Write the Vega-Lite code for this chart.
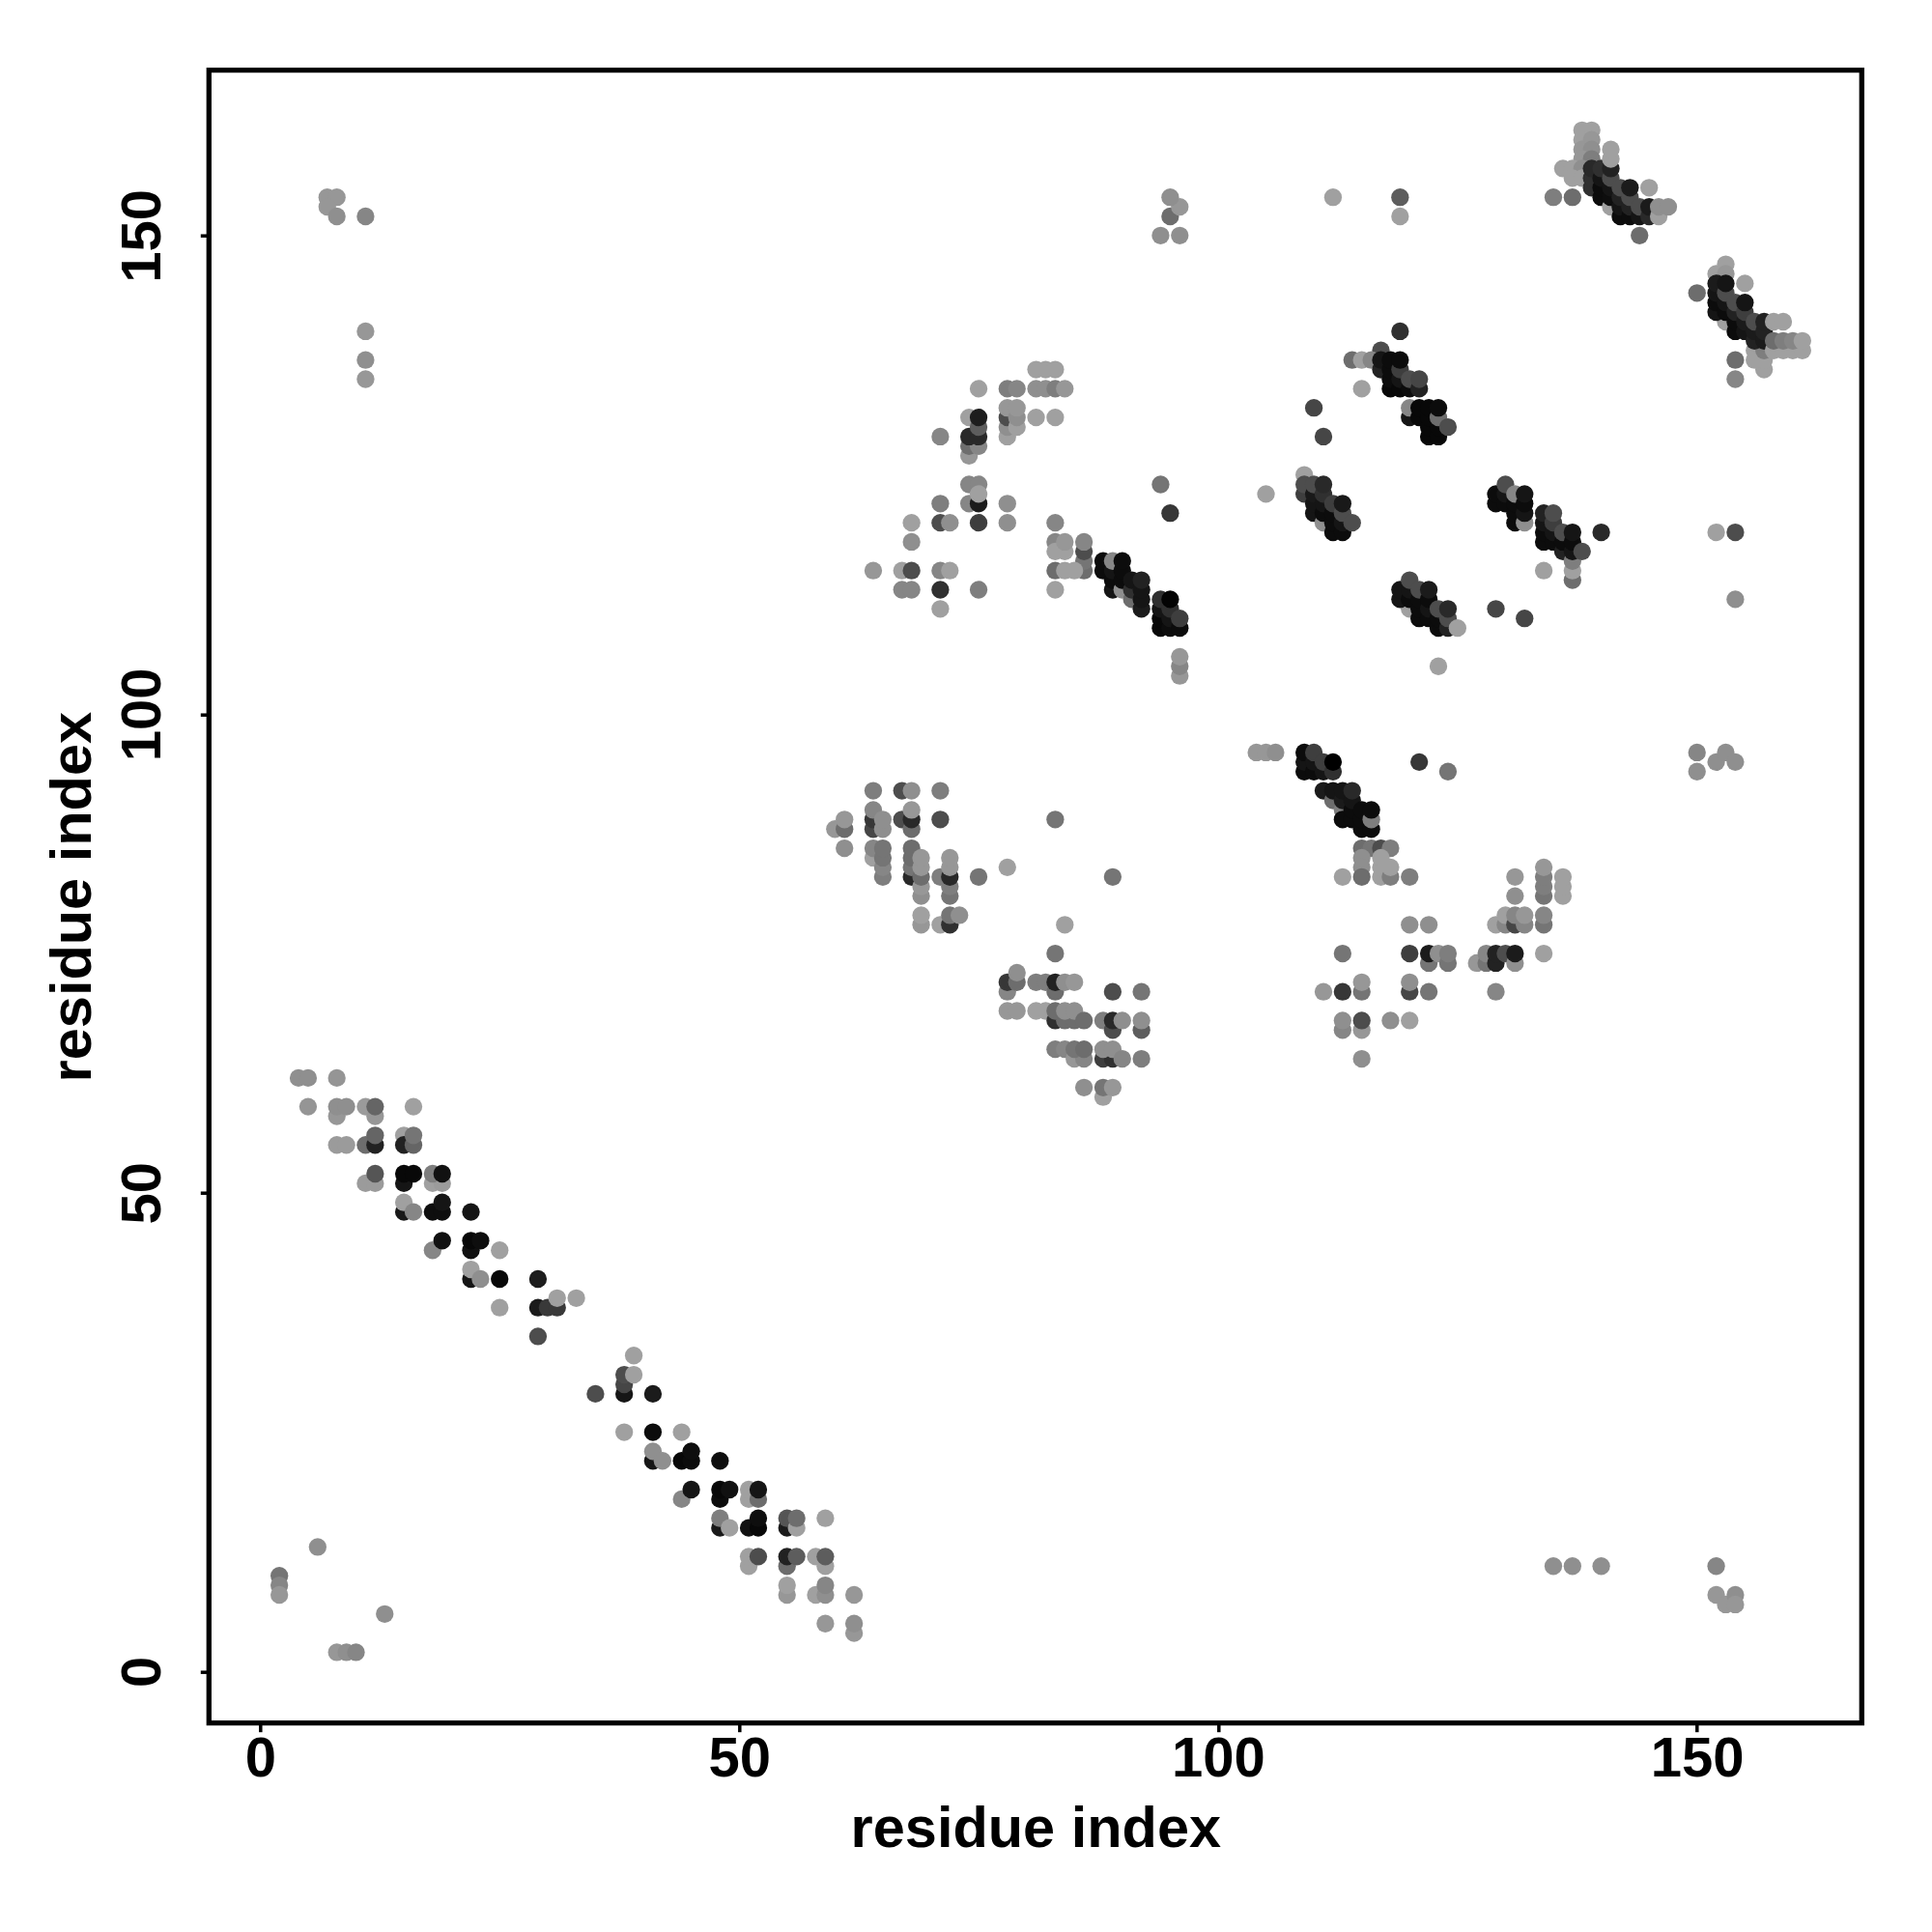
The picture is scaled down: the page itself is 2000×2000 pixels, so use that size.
{"$schema":"https://vega.github.io/schema/vega-lite/v6.json","width":1711,"height":1711,"autosize":{"type":"none"},"padding":{"left":216.3,"top":72.7,"right":72,"bottom":216},"background":"white","view":{"stroke":"black","strokeWidth":5.3,"fill":"white"},
"data":{"values":[
{"x":4,"y":62,"v":144},{"x":5,"y":62,"v":144},{"x":8,"y":62,"v":150},{"x":5,"y":59,"v":150},{"x":8,"y":58,"v":152},{"x":8,"y":59,"v":144},{"x":9,"y":59,"v":144},{"x":11,"y":59,"v":155},{"x":12,"y":58,"v":152},{"x":12,"y":59,"v":104},{"x":16,"y":59,"v":160},
{"x":8,"y":55,"v":155},{"x":9,"y":55,"v":155},{"x":11,"y":55,"v":112},{"x":12,"y":55,"v":32},{"x":12,"y":56,"v":104},{"x":15,"y":56,"v":160},{"x":15,"y":55,"v":32},{"x":16,"y":55,"v":104},{"x":16,"y":56,"v":120},
{"x":11,"y":51,"v":155},{"x":12,"y":51,"v":155},{"x":12,"y":52,"v":88},{"x":15,"y":51,"v":16},{"x":15,"y":52,"v":5},{"x":16,"y":52,"v":5},{"x":18,"y":51,"v":160},{"x":19,"y":51,"v":155},{"x":18,"y":52,"v":128},{"x":19,"y":52,"v":12},
{"x":15,"y":48,"v":21},{"x":15,"y":49,"v":160},{"x":16,"y":48,"v":136},{"x":18,"y":48,"v":10},{"x":19,"y":48,"v":10},{"x":19,"y":49,"v":16},{"x":22,"y":48,"v":16},
{"x":18,"y":44,"v":136},{"x":19,"y":45,"v":12},{"x":22,"y":44,"v":12},{"x":22,"y":45,"v":5},{"x":23,"y":45,"v":10},{"x":25,"y":44,"v":160},
{"x":22,"y":41,"v":16},{"x":22,"y":42,"v":160},{"x":23,"y":41,"v":144},{"x":25,"y":41,"v":5},{"x":29,"y":41,"v":26},
{"x":25,"y":38,"v":160},{"x":29,"y":38,"v":24},{"x":30,"y":38,"v":58},{"x":31,"y":38,"v":58},{"x":31,"y":39,"v":160},{"x":33,"y":39,"v":160},{"x":29,"y":35,"v":80},
{"x":39,"y":33,"v":160},{"x":38,"y":29,"v":18},{"x":38,"y":30,"v":72},{"x":38,"y":31,"v":80},{"x":39,"y":31,"v":160},{"x":35,"y":29,"v":80},{"x":41,"y":29,"v":24},
{"x":38,"y":25,"v":160},{"x":41,"y":25,"v":8},{"x":44,"y":25,"v":160},
{"x":41,"y":22,"v":16},{"x":41,"y":23,"v":144},{"x":42,"y":22,"v":144},{"x":44,"y":22,"v":5},{"x":45,"y":22,"v":8},{"x":45,"y":23,"v":10},{"x":48,"y":22,"v":10},
{"x":44,"y":18,"v":136},{"x":45,"y":19,"v":16},{"x":48,"y":18,"v":8},{"x":48,"y":19,"v":5},{"x":49,"y":19,"v":12},{"x":51,"y":18,"v":160},{"x":51,"y":19,"v":160},{"x":52,"y":18,"v":112},{"x":52,"y":19,"v":16},
{"x":48,"y":15,"v":21},{"x":48,"y":16,"v":128},{"x":49,"y":15,"v":160},{"x":51,"y":15,"v":12},{"x":52,"y":15,"v":5},{"x":52,"y":16,"v":10},{"x":55,"y":15,"v":24},{"x":55,"y":16,"v":88},{"x":56,"y":15,"v":160},{"x":56,"y":16,"v":112},{"x":59,"y":16,"v":160},
{"x":51,"y":11,"v":160},{"x":51,"y":12,"v":160},{"x":52,"y":12,"v":80},{"x":55,"y":11,"v":112},{"x":55,"y":12,"v":32},{"x":56,"y":12,"v":96},{"x":58,"y":12,"v":160},{"x":59,"y":11,"v":160},{"x":59,"y":12,"v":96},
{"x":55,"y":8,"v":152},{"x":55,"y":9,"v":160},{"x":58,"y":8,"v":160},{"x":59,"y":8,"v":144},{"x":59,"y":9,"v":136},{"x":62,"y":8,"v":152},{"x":59,"y":5,"v":152},{"x":62,"y":4,"v":152},{"x":62,"y":5,"v":144},
{"x":2,"y":10,"v":120},{"x":2,"y":9,"v":136},{"x":2,"y":8,"v":152},{"x":6,"y":13,"v":144},{"x":8,"y":2,"v":152},{"x":9,"y":2,"v":144},{"x":10,"y":2,"v":136},{"x":13,"y":6,"v":144},
{"x":7,"y":154,"v":152},{"x":8,"y":154,"v":152},{"x":7,"y":153,"v":152},{"x":8,"y":152,"v":144},{"x":11,"y":152,"v":136},{"x":11,"y":140,"v":152},{"x":11,"y":137,"v":144},{"x":11,"y":135,"v":152},
{"x":135,"y":11,"v":144},{"x":137,"y":11,"v":144},{"x":140,"y":11,"v":144},{"x":152,"y":11,"v":136},{"x":152,"y":8,"v":152},{"x":153,"y":7,"v":152},{"x":154,"y":8,"v":144},{"x":154,"y":7,"v":152},
{"x":94,"y":150,"v":144},{"x":95,"y":152,"v":112},{"x":96,"y":150,"v":144},{"x":96,"y":153,"v":152},{"x":95,"y":154,"v":144},{"x":112,"y":154,"v":160},{"x":119,"y":154,"v":96},{"x":119,"y":152,"v":160},
{"x":138,"y":161,"v":160},{"x":139,"y":161,"v":160},{"x":138,"y":160,"v":160},{"x":139,"y":160,"v":152},{"x":138,"y":159,"v":152},{"x":139,"y":159,"v":144},{"x":138,"y":158,"v":152},{"x":139,"y":158,"v":128},{"x":136,"y":157,"v":160},{"x":137,"y":157,"v":160},{"x":138,"y":157,"v":144},{"x":137,"y":156,"v":160},{"x":138,"y":156,"v":160},{"x":135,"y":154,"v":128},{"x":137,"y":154,"v":112},
{"x":139,"y":155,"v":48},{"x":139,"y":156,"v":48},{"x":139,"y":157,"v":40},{"x":140,"y":154,"v":8},{"x":140,"y":155,"v":8},{"x":140,"y":156,"v":16},{"x":140,"y":157,"v":48},{"x":141,"y":153,"v":160},{"x":141,"y":154,"v":10},{"x":141,"y":155,"v":16},{"x":141,"y":156,"v":80},{"x":141,"y":157,"v":32},{"x":141,"y":158,"v":160},{"x":141,"y":159,"v":160},
{"x":142,"y":152,"v":8},{"x":142,"y":153,"v":16},{"x":142,"y":154,"v":32},{"x":142,"y":155,"v":80},{"x":143,"y":152,"v":8},{"x":143,"y":153,"v":32},{"x":143,"y":154,"v":80},{"x":143,"y":155,"v":24},{"x":144,"y":152,"v":16},{"x":144,"y":153,"v":80},{"x":145,"y":155,"v":160},{"x":145,"y":152,"v":40},{"x":145,"y":153,"v":24},{"x":146,"y":152,"v":160},{"x":146,"y":153,"v":144},{"x":147,"y":153,"v":144},{"x":144,"y":150,"v":112},
{"x":152,"y":146,"v":160},{"x":153,"y":147,"v":160},{"x":153,"y":146,"v":152},{"x":155,"y":145,"v":160},{"x":150,"y":144,"v":112},{"x":153,"y":141,"v":160},{"x":152,"y":142,"v":16},{"x":152,"y":143,"v":8},{"x":152,"y":144,"v":16},{"x":152,"y":145,"v":24},{"x":153,"y":142,"v":8},{"x":153,"y":143,"v":16},{"x":153,"y":144,"v":80},{"x":153,"y":145,"v":16},{"x":154,"y":140,"v":8},{"x":154,"y":141,"v":8},{"x":154,"y":142,"v":32},{"x":154,"y":143,"v":80},{"x":155,"y":140,"v":16},{"x":155,"y":141,"v":24},{"x":155,"y":142,"v":64},{"x":155,"y":143,"v":16},
{"x":156,"y":137,"v":160},{"x":156,"y":138,"v":160},{"x":157,"y":136,"v":160},{"x":157,"y":137,"v":160},{"x":157,"y":138,"v":128},{"x":156,"y":139,"v":32},{"x":156,"y":140,"v":24},{"x":156,"y":141,"v":80},{"x":157,"y":139,"v":24},{"x":157,"y":140,"v":32},{"x":157,"y":141,"v":32},{"x":158,"y":138,"v":160},{"x":159,"y":138,"v":160},{"x":160,"y":138,"v":160},{"x":161,"y":138,"v":160},{"x":158,"y":139,"v":112},{"x":159,"y":139,"v":128},{"x":160,"y":139,"v":136},{"x":161,"y":139,"v":160},{"x":158,"y":141,"v":160},{"x":159,"y":141,"v":160},{"x":154,"y":137,"v":112},{"x":154,"y":135,"v":136},
{"x":119,"y":140,"v":48},{"x":117,"y":138,"v":80},{"x":114,"y":137,"v":112},{"x":115,"y":137,"v":160},{"x":116,"y":137,"v":136},{"x":117,"y":136,"v":32},{"x":117,"y":137,"v":16},{"x":118,"y":134,"v":5},{"x":118,"y":135,"v":8},{"x":118,"y":136,"v":8},{"x":118,"y":137,"v":8},{"x":119,"y":134,"v":5},{"x":119,"y":135,"v":16},{"x":119,"y":136,"v":64},{"x":119,"y":137,"v":8},{"x":120,"y":134,"v":8},{"x":120,"y":135,"v":80},{"x":121,"y":134,"v":32},{"x":121,"y":135,"v":72},{"x":115,"y":134,"v":160},
{"x":110,"y":132,"v":72},{"x":111,"y":129,"v":72},{"x":120,"y":131,"v":16},{"x":120,"y":132,"v":136},{"x":121,"y":131,"v":5},{"x":121,"y":132,"v":5},{"x":122,"y":129,"v":5},{"x":122,"y":130,"v":5},{"x":122,"y":131,"v":5},{"x":122,"y":132,"v":5},{"x":123,"y":129,"v":5},{"x":123,"y":130,"v":5},{"x":123,"y":131,"v":112},{"x":123,"y":132,"v":8},{"x":124,"y":130,"v":80},
{"x":109,"y":125,"v":160},{"x":105,"y":123,"v":160},{"x":109,"y":123,"v":64},{"x":109,"y":124,"v":80},{"x":110,"y":121,"v":16},{"x":110,"y":122,"v":16},{"x":110,"y":123,"v":21},{"x":110,"y":124,"v":80},{"x":111,"y":120,"v":144},{"x":111,"y":121,"v":8},{"x":111,"y":122,"v":16},{"x":111,"y":123,"v":48},{"x":111,"y":124,"v":40},{"x":112,"y":119,"v":8},{"x":112,"y":120,"v":8},{"x":112,"y":121,"v":8},{"x":112,"y":122,"v":64},{"x":113,"y":119,"v":8},{"x":113,"y":120,"v":16},{"x":113,"y":121,"v":80},{"x":113,"y":122,"v":21},{"x":114,"y":120,"v":80},
{"x":129,"y":122,"v":8},{"x":129,"y":123,"v":8},{"x":130,"y":122,"v":8},{"x":130,"y":123,"v":16},{"x":130,"y":124,"v":80},{"x":131,"y":120,"v":8},{"x":131,"y":121,"v":8},{"x":131,"y":122,"v":8},{"x":131,"y":123,"v":136},{"x":132,"y":120,"v":144},{"x":132,"y":121,"v":16},{"x":132,"y":122,"v":8},{"x":132,"y":123,"v":16},
{"x":134,"y":118,"v":8},{"x":134,"y":119,"v":8},{"x":134,"y":120,"v":16},{"x":134,"y":121,"v":32},{"x":135,"y":118,"v":8},{"x":135,"y":119,"v":16},{"x":135,"y":120,"v":64},{"x":135,"y":121,"v":80},{"x":136,"y":117,"v":32},{"x":136,"y":118,"v":8},{"x":136,"y":119,"v":80},{"x":137,"y":114,"v":112},{"x":137,"y":115,"v":160},{"x":137,"y":116,"v":128},{"x":137,"y":117,"v":16},{"x":137,"y":118,"v":8},{"x":137,"y":119,"v":16},{"x":138,"y":117,"v":80},{"x":140,"y":119,"v":40},{"x":134,"y":115,"v":160},
{"x":129,"y":111,"v":72},{"x":132,"y":110,"v":72},{"x":120,"y":111,"v":160},{"x":119,"y":112,"v":16},{"x":119,"y":113,"v":16},{"x":120,"y":112,"v":8},{"x":120,"y":113,"v":16},{"x":120,"y":114,"v":80},{"x":121,"y":110,"v":8},{"x":121,"y":111,"v":8},{"x":121,"y":112,"v":8},{"x":121,"y":113,"v":80},{"x":122,"y":110,"v":8},{"x":122,"y":111,"v":16},{"x":122,"y":112,"v":8},{"x":122,"y":113,"v":24},{"x":123,"y":109,"v":8},{"x":123,"y":110,"v":8},{"x":123,"y":111,"v":80},{"x":124,"y":109,"v":32},{"x":124,"y":110,"v":80},{"x":124,"y":111,"v":40},{"x":125,"y":109,"v":160},{"x":123,"y":105,"v":160},
{"x":81,"y":136,"v":160},{"x":82,"y":136,"v":160},{"x":83,"y":136,"v":160},{"x":75,"y":134,"v":160},{"x":78,"y":134,"v":128},{"x":79,"y":134,"v":136},{"x":81,"y":134,"v":144},{"x":82,"y":134,"v":144},{"x":83,"y":134,"v":128},{"x":84,"y":134,"v":152},
{"x":78,"y":129,"v":160},{"x":78,"y":130,"v":144},{"x":78,"y":131,"v":80},{"x":78,"y":132,"v":152},{"x":79,"y":130,"v":160},{"x":79,"y":131,"v":144},{"x":79,"y":132,"v":152},{"x":81,"y":131,"v":160},{"x":83,"y":131,"v":160},{"x":71,"y":129,"v":136},{"x":74,"y":131,"v":160},{"x":74,"y":127,"v":152},{"x":74,"y":128,"v":112},{"x":75,"y":128,"v":136},{"x":74,"y":129,"v":40},{"x":75,"y":129,"v":40},{"x":75,"y":130,"v":96},{"x":75,"y":131,"v":26},
{"x":74,"y":124,"v":136},{"x":75,"y":124,"v":136},{"x":71,"y":122,"v":128},{"x":74,"y":122,"v":136},{"x":75,"y":122,"v":24},{"x":75,"y":123,"v":160},{"x":78,"y":122,"v":144},{"x":68,"y":120,"v":160},{"x":71,"y":120,"v":80},{"x":72,"y":120,"v":144},{"x":75,"y":120,"v":64},{"x":78,"y":120,"v":144},{"x":83,"y":120,"v":136},{"x":68,"y":118,"v":144},
{"x":83,"y":118,"v":136},{"x":83,"y":117,"v":160},{"x":84,"y":117,"v":160},{"x":84,"y":118,"v":152},{"x":86,"y":115,"v":112},{"x":86,"y":116,"v":120},{"x":86,"y":117,"v":80},{"x":86,"y":118,"v":136},{"x":64,"y":115,"v":152},{"x":67,"y":115,"v":160},{"x":68,"y":115,"v":80},{"x":71,"y":115,"v":136},{"x":72,"y":115,"v":160},{"x":83,"y":115,"v":112},{"x":84,"y":115,"v":160},{"x":85,"y":115,"v":160},{"x":67,"y":113,"v":136},{"x":68,"y":113,"v":136},{"x":71,"y":113,"v":48},{"x":75,"y":113,"v":128},{"x":83,"y":113,"v":160},{"x":71,"y":111,"v":160},{"x":94,"y":124,"v":120},{"x":95,"y":121,"v":56},
{"x":88,"y":115,"v":8},{"x":88,"y":116,"v":8},{"x":89,"y":113,"v":16},{"x":89,"y":114,"v":8},{"x":89,"y":115,"v":16},{"x":89,"y":116,"v":136},{"x":90,"y":113,"v":144},{"x":90,"y":114,"v":8},{"x":90,"y":115,"v":8},{"x":90,"y":116,"v":8},{"x":91,"y":112,"v":112},{"x":91,"y":113,"v":48},{"x":91,"y":114,"v":16},{"x":92,"y":111,"v":24},{"x":92,"y":112,"v":16},{"x":92,"y":113,"v":16},{"x":92,"y":114,"v":32},
{"x":94,"y":109,"v":5},{"x":94,"y":110,"v":5},{"x":94,"y":111,"v":16},{"x":94,"y":112,"v":48},{"x":95,"y":109,"v":8},{"x":95,"y":110,"v":16},{"x":95,"y":111,"v":48},{"x":95,"y":112,"v":2},{"x":96,"y":109,"v":8},{"x":96,"y":110,"v":64},{"x":96,"y":104,"v":152},{"x":96,"y":105,"v":136},{"x":96,"y":106,"v":152},
{"x":64,"y":92,"v":128},{"x":67,"y":92,"v":80},{"x":68,"y":92,"v":144},{"x":71,"y":92,"v":128},{"x":64,"y":88,"v":72},{"x":64,"y":89,"v":56},{"x":64,"y":90,"v":136},{"x":65,"y":88,"v":144},{"x":65,"y":89,"v":144},{"x":67,"y":89,"v":80},{"x":68,"y":88,"v":112},{"x":68,"y":89,"v":40},{"x":68,"y":90,"v":152},{"x":71,"y":89,"v":80},{"x":83,"y":89,"v":120},{"x":60,"y":88,"v":152},{"x":61,"y":88,"v":112},{"x":61,"y":89,"v":152},{"x":61,"y":86,"v":144},
{"x":64,"y":85,"v":160},{"x":64,"y":86,"v":136},{"x":65,"y":83,"v":128},{"x":65,"y":84,"v":136},{"x":65,"y":85,"v":120},{"x":65,"y":86,"v":120},{"x":68,"y":83,"v":40},{"x":68,"y":84,"v":120},{"x":68,"y":85,"v":112},{"x":68,"y":86,"v":112},{"x":69,"y":81,"v":144},{"x":69,"y":82,"v":152},{"x":69,"y":83,"v":112},{"x":69,"y":84,"v":152},{"x":69,"y":85,"v":152},{"x":71,"y":83,"v":128},{"x":72,"y":81,"v":120},{"x":72,"y":82,"v":128},{"x":72,"y":83,"v":40},{"x":72,"y":84,"v":152},{"x":72,"y":85,"v":152},{"x":75,"y":83,"v":120},{"x":78,"y":84,"v":160},{"x":89,"y":83,"v":120},
{"x":69,"y":78,"v":152},{"x":69,"y":79,"v":160},{"x":71,"y":78,"v":160},{"x":72,"y":78,"v":48},{"x":72,"y":79,"v":120},{"x":73,"y":79,"v":144},{"x":84,"y":78,"v":160},{"x":83,"y":75,"v":120},
{"x":78,"y":71,"v":136},{"x":78,"y":72,"v":56},{"x":79,"y":72,"v":112},{"x":79,"y":73,"v":144},{"x":81,"y":72,"v":128},{"x":82,"y":72,"v":128},{"x":83,"y":71,"v":112},{"x":83,"y":72,"v":32},{"x":84,"y":72,"v":144},{"x":85,"y":72,"v":152},
{"x":78,"y":69,"v":152},{"x":79,"y":69,"v":152},{"x":81,"y":69,"v":160},{"x":82,"y":69,"v":160},{"x":83,"y":68,"v":48},{"x":84,"y":68,"v":112},{"x":85,"y":68,"v":112},{"x":83,"y":69,"v":112},{"x":84,"y":69,"v":144},{"x":85,"y":69,"v":144},{"x":86,"y":68,"v":112},{"x":89,"y":71,"v":80},{"x":92,"y":71,"v":120},{"x":88,"y":68,"v":128},{"x":89,"y":67,"v":80},{"x":89,"y":68,"v":40},{"x":90,"y":68,"v":144},{"x":92,"y":67,"v":96},{"x":92,"y":68,"v":144},
{"x":83,"y":65,"v":128},{"x":84,"y":65,"v":136},{"x":85,"y":64,"v":152},{"x":86,"y":64,"v":136},{"x":85,"y":65,"v":120},{"x":86,"y":65,"v":112},{"x":88,"y":64,"v":64},{"x":89,"y":64,"v":48},{"x":88,"y":65,"v":144},{"x":89,"y":65,"v":144},{"x":90,"y":64,"v":136},{"x":92,"y":64,"v":128},{"x":86,"y":61,"v":144},{"x":88,"y":60,"v":160},{"x":88,"y":61,"v":120},{"x":89,"y":61,"v":152},
{"x":104,"y":96,"v":152},{"x":105,"y":96,"v":152},{"x":106,"y":96,"v":144},{"x":109,"y":94,"v":8},{"x":109,"y":95,"v":16},{"x":109,"y":96,"v":8},{"x":110,"y":94,"v":8},{"x":110,"y":95,"v":16},{"x":110,"y":96,"v":64},{"x":111,"y":94,"v":16},{"x":111,"y":95,"v":64},{"x":112,"y":94,"v":48},{"x":112,"y":95,"v":0},{"x":121,"y":95,"v":56},{"x":124,"y":94,"v":120},
{"x":111,"y":92,"v":24},{"x":112,"y":91,"v":112},{"x":112,"y":92,"v":16},{"x":113,"y":90,"v":128},{"x":113,"y":89,"v":8},{"x":113,"y":91,"v":24},{"x":113,"y":92,"v":16},{"x":114,"y":89,"v":8},{"x":114,"y":90,"v":8},{"x":114,"y":91,"v":16},{"x":114,"y":92,"v":40},{"x":115,"y":88,"v":8},{"x":115,"y":89,"v":8},{"x":115,"y":90,"v":8},{"x":116,"y":88,"v":8},{"x":116,"y":89,"v":128},{"x":116,"y":90,"v":8},
{"x":115,"y":86,"v":112},{"x":116,"y":86,"v":120},{"x":117,"y":86,"v":80},{"x":118,"y":86,"v":128},{"x":115,"y":85,"v":144},{"x":115,"y":84,"v":144},{"x":115,"y":83,"v":112},{"x":113,"y":83,"v":160},{"x":117,"y":83,"v":160},{"x":117,"y":84,"v":160},{"x":117,"y":85,"v":160},{"x":118,"y":83,"v":128},{"x":118,"y":84,"v":160},{"x":120,"y":83,"v":128},
{"x":131,"y":83,"v":152},{"x":131,"y":81,"v":144},{"x":134,"y":81,"v":120},{"x":134,"y":82,"v":128},{"x":134,"y":83,"v":128},{"x":134,"y":84,"v":152},{"x":136,"y":81,"v":160},{"x":136,"y":82,"v":160},{"x":136,"y":83,"v":160},
{"x":129,"y":78,"v":160},{"x":130,"y":78,"v":136},{"x":130,"y":79,"v":160},{"x":131,"y":78,"v":72},{"x":131,"y":79,"v":136},{"x":132,"y":78,"v":136},{"x":132,"y":79,"v":152},{"x":134,"y":78,"v":120},{"x":134,"y":79,"v":136},{"x":120,"y":78,"v":144},{"x":122,"y":78,"v":144},
{"x":113,"y":75,"v":120},{"x":120,"y":75,"v":64},{"x":122,"y":74,"v":120},{"x":122,"y":75,"v":24},{"x":123,"y":75,"v":144},{"x":124,"y":74,"v":120},{"x":124,"y":75,"v":128},{"x":127,"y":74,"v":152},{"x":128,"y":74,"v":120},{"x":128,"y":75,"v":136},{"x":129,"y":74,"v":32},{"x":129,"y":75,"v":32},{"x":130,"y":75,"v":80},{"x":131,"y":74,"v":144},{"x":131,"y":75,"v":24},{"x":134,"y":75,"v":160},{"x":129,"y":71,"v":136},
{"x":111,"y":71,"v":152},{"x":113,"y":71,"v":56},{"x":115,"y":71,"v":120},{"x":115,"y":72,"v":152},{"x":120,"y":71,"v":72},{"x":120,"y":72,"v":144},{"x":122,"y":71,"v":120},{"x":113,"y":67,"v":136},{"x":113,"y":68,"v":144},{"x":115,"y":67,"v":152},{"x":115,"y":68,"v":80},{"x":118,"y":68,"v":144},{"x":120,"y":68,"v":160},{"x":115,"y":64,"v":144},
{"x":150,"y":96,"v":136},{"x":150,"y":94,"v":144},{"x":152,"y":95,"v":144},{"x":153,"y":96,"v":144},{"x":154,"y":95,"v":144},{"x":152,"y":119,"v":160},{"x":154,"y":119,"v":80},{"x":154,"y":112,"v":144}
]},
"mark":{"type":"circle","size":335,"opacity":1},
"encoding":{
"x":{"field":"x","type":"quantitative","scale":{"domain":[-5.35,167.2],"nice":false,"zero":false},"axis":{"values":[0,50,100,150],"title":"residue index","grid":false,"domain":false,"tickColor":"black","tickWidth":3.5,"tickSize":9,"labelColor":"black","labelFont":"Liberation Sans","labelFontWeight":"bold","labelFontSize":58,"labelPadding":0,"titleColor":"black","titleFont":"Liberation Sans","titleFontWeight":"bold","titleFontSize":59.5,"titlePadding":14}},
"y":{"field":"y","type":"quantitative","scale":{"domain":[-5.39,167.27],"nice":false,"zero":false},"axis":{"values":[0,50,100,150],"title":"residue index","grid":false,"domain":false,"tickColor":"black","tickWidth":3.5,"tickSize":9,"labelColor":"black","labelFont":"Liberation Sans","labelFontWeight":"bold","labelFontSize":58,"labelAngle":-90,"labelAlign":"center","labelBaseline":"bottom","labelPadding":30,"titleColor":"black","titleFont":"Liberation Sans","titleFontWeight":"bold","titleFontSize":59.5,"titlePadding":14}},
"color":{"field":"v","type":"quantitative","scale":{"domain":[0,160],"range":["#000000","#a0a0a0"]},"legend":null}
}}
